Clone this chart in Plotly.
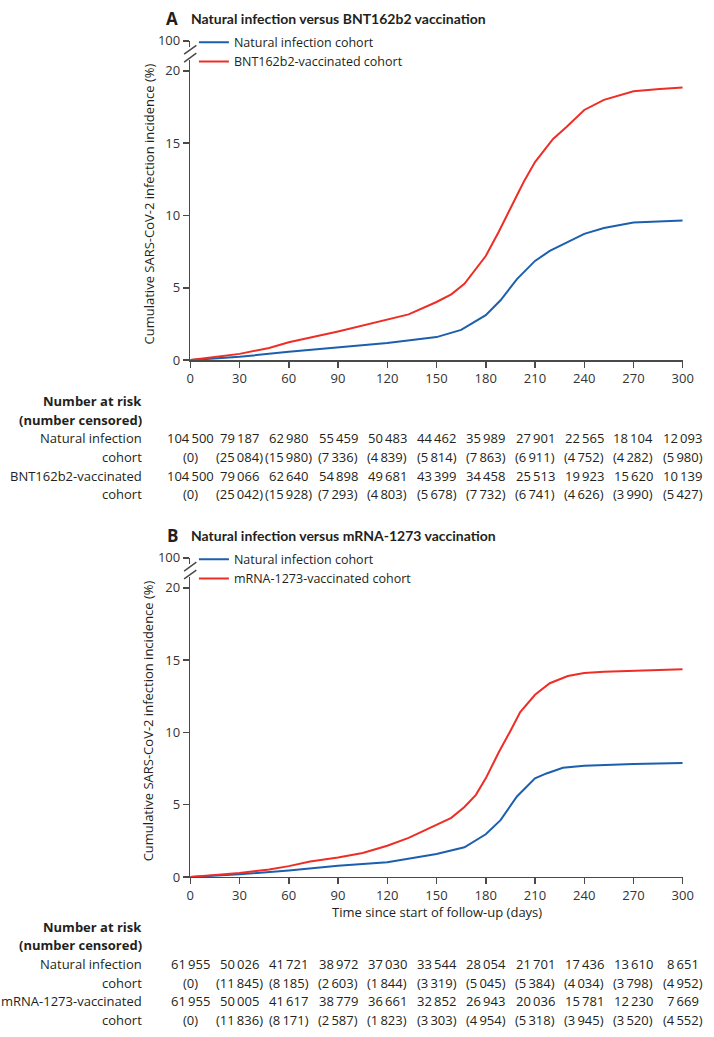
import plotly.graph_objects as go

# ---------------- data ----------------
days_ticks = [0, 30, 60, 90, 120, 150, 180, 210, 240, 270, 300]

days_a_nat = [0, 30, 60, 90, 120, 150, 165, 180, 189, 199, 210, 219, 240, 252, 270, 300]
inc_a_nat = [0, 0.23, 0.57, 0.89, 1.18, 1.59, 2.09, 3.11, 4.14, 5.6, 6.86, 7.55, 8.73, 9.14, 9.52, 9.66]

days_a_bnt = [0, 30, 48, 60, 90, 120, 133, 150, 159, 167, 180, 188, 195, 203, 210, 221, 229, 240, 252, 270, 286, 300]
inc_a_bnt = [0, 0.43, 0.84, 1.23, 1.98, 2.77, 3.16, 4.02, 4.55, 5.27, 7.2, 8.9, 10.5, 12.3, 13.7, 15.3, 16.1, 17.3, 18.0, 18.6, 18.75, 18.86]

days_b_nat = [0, 30, 60, 90, 120, 150, 167, 180, 189, 199, 210, 217, 227, 240, 270, 300]
inc_b_nat = [0, 0.18, 0.45, 0.77, 1.02, 1.59, 2.05, 2.95, 3.93, 5.57, 6.82, 7.16, 7.55, 7.7, 7.82, 7.89]

days_b_mrna = [0, 30, 48, 60, 73, 90, 105, 120, 133, 150, 159, 167, 174, 180, 188, 195, 201, 210, 219, 230, 240, 252, 270, 300]
inc_b_mrna = [0, 0.27, 0.52, 0.75, 1.07, 1.34, 1.66, 2.16, 2.70, 3.64, 4.09, 4.84, 5.68, 6.82, 8.64, 10.1, 11.4, 12.6, 13.4, 13.9, 14.1, 14.2, 14.27, 14.36]

nat_risk_a = [104500, 79187, 62980, 55459, 50483, 44462, 35989, 27901, 22565, 18104, 12093]
nat_cens_a = [0, 25084, 15980, 7336, 4839, 5814, 7863, 6911, 4752, 4282, 5980]
bnt_risk_a = [104500, 79066, 62640, 54898, 49681, 43399, 34458, 25513, 19923, 15620, 10139]
bnt_cens_a = [0, 25042, 15928, 7293, 4803, 5678, 7732, 6741, 4626, 3990, 5427]

nat_risk_b = [61955, 50026, 41721, 38972, 37030, 33544, 28054, 21701, 17436, 13610, 8651]
nat_cens_b = [0, 11845, 8185, 2603, 1844, 3319, 5045, 5384, 4034, 3798, 4952]
mrna_risk_b = [61955, 50005, 41617, 38779, 36661, 32852, 26943, 20036, 15781, 12230, 7669]
mrna_cens_b = [0, 11836, 8171, 2587, 1823, 3303, 4954, 5318, 3945, 3520, 4552]

title_a = "Natural infection versus BNT162b2 vaccination"
title_b = "Natural infection versus mRNA-1273 vaccination"
name_nat = "Natural infection cohort"
name_bnt = "BNT162b2-vaccinated cohort"
name_mrna = "mRNA-1273-vaccinated cohort"
ytitle = "Cumulative SARS-CoV-2 infection incidence (%)"
xtitle = "Time since start of follow-up (days)"

# ---------------- style ----------------
W, H = 714, 1037
BLUE = "#1c5fae"
RED = "#ee2e26"
AX = "#4a4a4a"
TXT = "#231f20"
FONT = "Open Sans"
TFONT = "Lato"
FS = 13


def px(p):
    return p / W


def py(p):
    return 1 - p / H


def fmt(v):
    s = f"{v:,}"
    return s.replace(",", "\u2009")


fig = go.Figure()

X0, X1 = 190.3, 693.3
panels = [
    dict(off=0, xa="x", ya="y", yb="y2"),
    dict(off=526, xa="x2", ya="y3", yb="y4"),
]

fig.add_trace(go.Scatter(x=days_a_nat, y=inc_a_nat, mode="lines", name=name_nat,
                         line=dict(color=BLUE, width=2), xaxis="x", yaxis="y", legend="legend"))
fig.add_trace(go.Scatter(x=days_a_bnt, y=inc_a_bnt, mode="lines", name=name_bnt,
                         line=dict(color=RED, width=2), xaxis="x", yaxis="y", legend="legend"))
fig.add_trace(go.Scatter(x=days_b_nat, y=inc_b_nat, mode="lines", name=name_nat,
                         line=dict(color=BLUE, width=2), xaxis="x2", yaxis="y3", legend="legend2"))
fig.add_trace(go.Scatter(x=days_b_mrna, y=inc_b_mrna, mode="lines", name=name_mrna,
                         line=dict(color=RED, width=2), xaxis="x2", yaxis="y3", legend="legend2"))
fig.add_trace(go.Scatter(x=[None], y=[None], xaxis="x", yaxis="y2", showlegend=False, hoverinfo="skip"))
fig.add_trace(go.Scatter(x=[None], y=[None], xaxis="x2", yaxis="y4", showlegend=False, hoverinfo="skip"))

common_ax = dict(showline=True, linecolor=AX, linewidth=1.5, ticks="outside", ticklen=6,
                 tickwidth=1.5, tickcolor=AX, showgrid=False, zeroline=False,
                 tickfont=dict(family=FONT, size=FS, color="#333333"), fixedrange=True)

layout = dict(autosize=True, margin=dict(l=0, r=0, t=0, b=0, pad=0),
              paper_bgcolor="white", plot_bgcolor="white",
              font=dict(family=FONT, size=FS, color=TXT), showlegend=True)

annotations = []
shapes = []

for i, p in enumerate(panels):
    off = p["off"]
    xk = "xaxis" if i == 0 else "xaxis2"
    ymain = "yaxis" if i == 0 else "yaxis3"
    ytop = "yaxis2" if i == 0 else "yaxis4"
    layout[xk] = dict(domain=[px(X0), px(X1)], range=[0, 300], tickvals=days_ticks,
                      anchor=p["ya"], **common_ax)
    layout[ymain] = dict(domain=[py(357.3 + off), py(52 + off)], range=[0, 20.75],
                         tickvals=[0, 5, 10, 15, 20], anchor=p["xa"], **common_ax)
    layout[ytop] = dict(domain=[py(39 + off), py(32.5 + off)], range=[97, 100],
                        tickvals=[100], anchor=p["xa"], **common_ax)
    for y0 in (46, 54):
        shapes.append(dict(type="line", xref="paper", yref="paper",
                           x0=px(184), x1=px(196.5), y0=py(y0 + off), y1=py(y0 - 9 + off),
                           line=dict(color=AX, width=1.5)))
    annotations.append(dict(text="<b>" + ("A" if i == 0 else "B") + "</b>", xref="paper", yref="paper",
                            x=px(172), y=py(10 + off), showarrow=False, xanchor="center", yanchor="middle",
                            font=dict(family=FONT, size=17, color=TXT)))
    annotations.append(dict(text="<b>" + (title_a if i == 0 else title_b) + "</b>", xref="paper", yref="paper",
                            x=px(189), y=py(10 + off), showarrow=False, xanchor="left", yanchor="middle",
                            font=dict(family=TFONT, size=14, color=TXT)))
    annotations.append(dict(text=ytitle, xref="paper", yref="paper", x=px(148), y=py(198 + off),
                            textangle=-90, showarrow=False, xanchor="center", yanchor="middle",
                            font=dict(family=FONT, size=FS, color=TXT)))

annotations.append(dict(text=xtitle, xref="paper", yref="paper", x=px(441.8), y=py(919),
                        showarrow=False, xanchor="center", yanchor="middle",
                        font=dict(family=FONT, size=FS, color=TXT)))

tables = [
    dict(xr="x", base=399, rows=[("Natural infection", nat_risk_a, False), ("cohort", nat_cens_a, True),
                                  ("BNT162b2-vaccinated", bnt_risk_a, False), ("cohort", bnt_cens_a, True)]),
    dict(xr="x2", base=934, rows=[("Natural infection", nat_risk_b, False), ("cohort", nat_cens_b, True),
                                   ("mRNA-1273-vaccinated", mrna_risk_b, False), ("cohort", mrna_cens_b, True)]),
]
ROW = 19
for t in tables:
    b = t["base"]
    annotations.append(dict(text="<b>Number at risk</b>", xref="paper", yref="paper", x=px(143.5), y=py(b),
                            showarrow=False, xanchor="right", yanchor="middle",
                            font=dict(family=FONT, size=FS, color=TXT)))
    annotations.append(dict(text="<b>(number censored)</b>", xref="paper", yref="paper", x=px(143.5),
                            y=py(b + ROW), showarrow=False, xanchor="right", yanchor="middle",
                            font=dict(family=FONT, size=FS, color=TXT)))
    for r, (lab, vals, paren) in enumerate(t["rows"]):
        yy = py(b + ROW * (r + 2))
        annotations.append(dict(text=lab, xref="paper", yref="paper", x=px(143.5), y=yy,
                                showarrow=False, xanchor="right", yanchor="middle",
                                font=dict(family=FONT, size=FS, color=TXT)))
        for d, v in zip(days_ticks, vals):
            s = f"({fmt(v)})" if paren else fmt(v)
            annotations.append(dict(text=s, xref=t["xr"], yref="paper", x=d, y=yy,
                                    showarrow=False, xanchor="center", yanchor="middle",
                                    font=dict(family=FONT, size=FS, color=TXT)))

leg_common = dict(bgcolor="rgba(0,0,0,0)", borderwidth=0, xanchor="left", yanchor="top",
                  font=dict(family=FONT, size=12.5, color=TXT), tracegroupgap=0,
                  itemclick=False, itemdoubleclick=False)
layout["legend"] = dict(x=px(194), y=py(19), **leg_common)
layout["legend2"] = dict(x=px(194), y=py(19 + 526), **leg_common)
layout["annotations"] = annotations
layout["shapes"] = shapes

fig.update_layout(**layout)
post = ("document.documentElement.style.margin='0';document.body.style.margin='0';"
        "document.documentElement.style.overflow='hidden';document.body.style.overflow='hidden';"
        "var gd=document.getElementById('{plot_id}');gd.style.width='100vw';gd.style.height='100vh';"
        "Plotly.Plots.resize(gd);")
fig.write_html("out.html", config={"displayModeBar": False, "staticPlot": True, "responsive": True},
               default_width="100vw", default_height="100vh", post_script=post)
